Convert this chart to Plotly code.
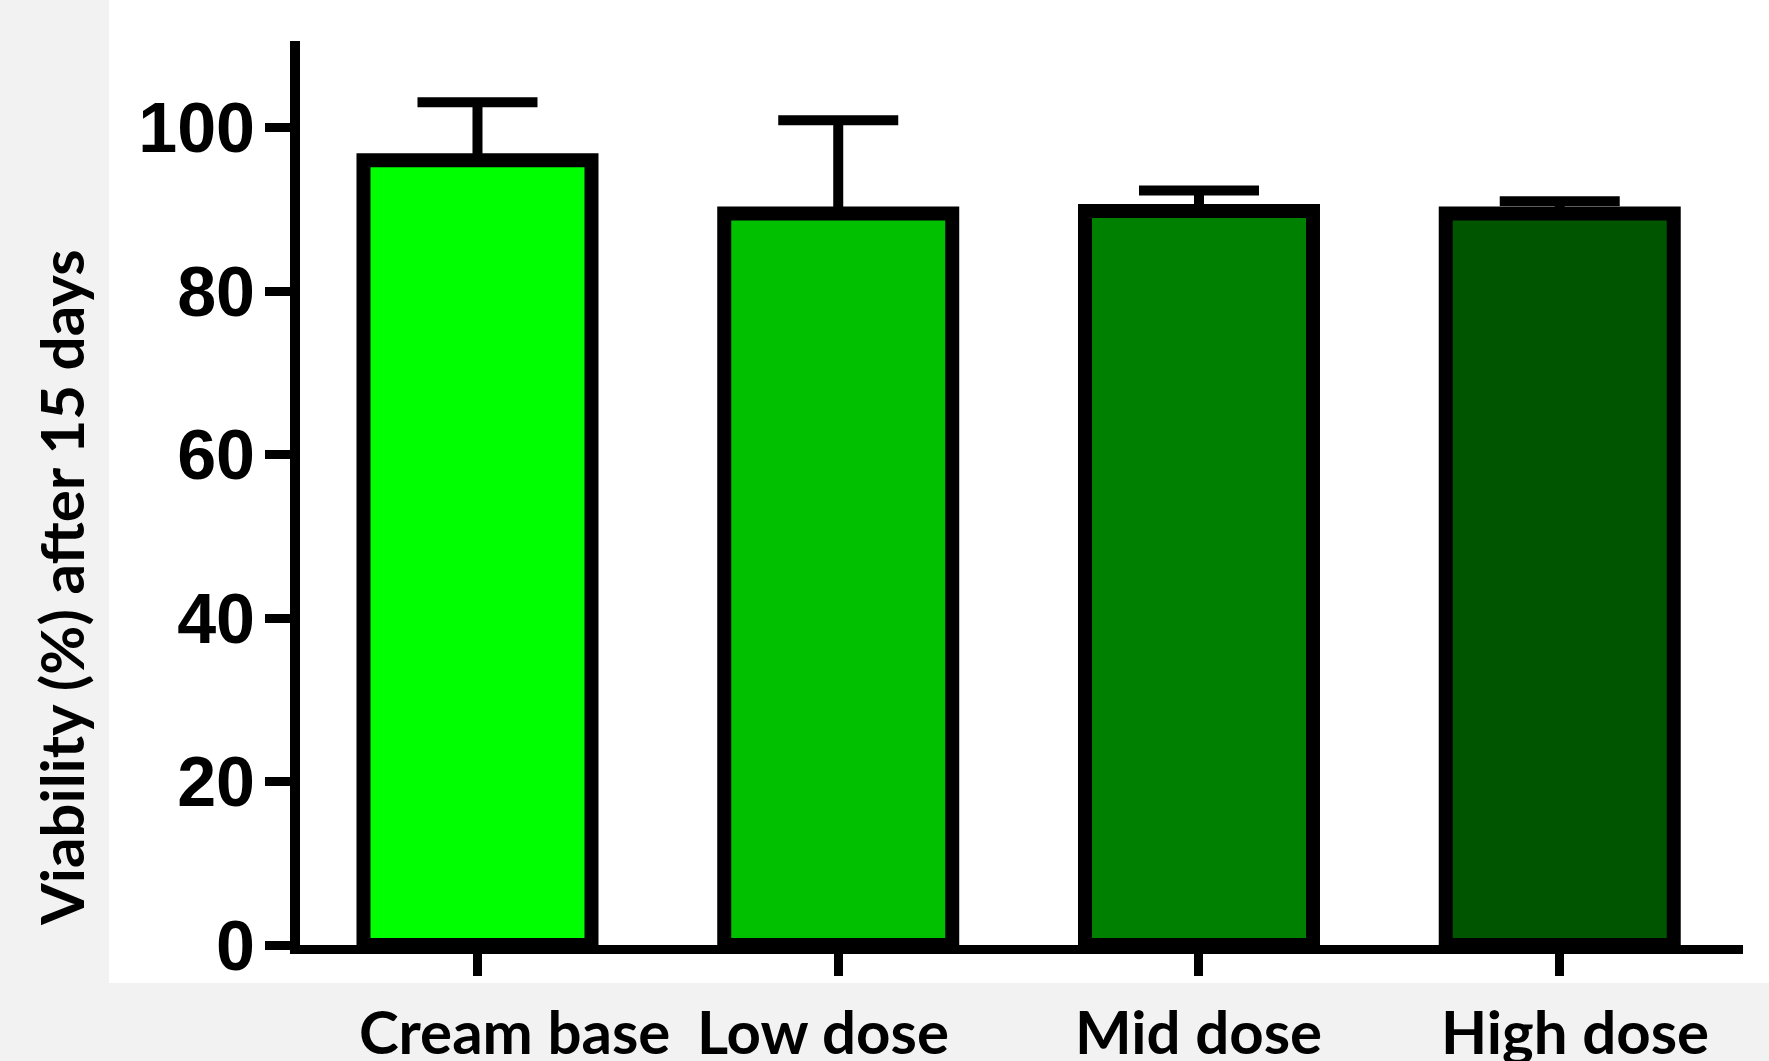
import plotly.graph_objects as go

categories = ["Cream base", "Low dose", "Mid dose", "High dose"]
viability = [96.0, 89.5, 89.8, 89.5]
sd_upper = [7.1, 11.4, 2.5, 1.5]
bar_colors = ["#00FF00", "#00C000", "#008000", "#005500"]
y_ticks = [0, 20, 40, 60, 80, 100]
y_title = "Viability (%) after 15 days"
label_shift = [37, -15, 0, 15]

W, H = 1769, 1061
ML, MR, MT, MB = 300, 26, 41, 116
PW, PH = W - ML - MR, H - MT - MB

fig = go.Figure()
fig.add_trace(go.Bar(
    x=list(range(len(categories))),
    y=viability,
    marker=dict(color=bar_colors, line=dict(color="black", width=14)),
    error_y=dict(type="data", symmetric=False, array=sd_upper,
                 arrayminus=[0] * len(categories),
                 color="black", thickness=10, width=60),
    showlegend=False,
    hoverinfo="x+y",
))

def px_x(px):
    return (px - ML) / PW

def px_y(py):
    return (H - MB - py) / PH

shapes = [dict(type="rect", xref="paper", yref="paper",
               x0=px_x(109), x1=px_x(W + 20), y0=px_y(983), y1=px_y(-20),
               fillcolor="white", line=dict(width=0), layer="below")]

annotations = []
for i, (c, s) in enumerate(zip(categories, label_shift)):
    annotations.append(dict(
        x=i, xref="x", y=px_y(1031), yref="paper", text=c, showarrow=False,
        xshift=s, xanchor="center", yanchor="middle",
        font=dict(family="Lato", size=60, color="black", weight="bold")))
annotations.append(dict(
    x=px_x(61), xref="paper", y=px_y(588), yref="paper", text=y_title,
    showarrow=False, textangle=-90, xanchor="center", yanchor="middle",
    font=dict(family="Lato", size=60, color="black", weight="bold")))

fig.update_layout(
    width=W, height=H,
    margin=dict(l=ML, r=MR, t=MT, b=MB, pad=0),
    paper_bgcolor="#F2F2F2",
    plot_bgcolor="white",
    bargap=0.368,
    shapes=shapes,
    annotations=annotations,
    xaxis=dict(range=[-0.492, 3.508], tickvals=list(range(len(categories))),
               showticklabels=False, showline=True, linecolor="black",
               linewidth=9, ticks="outside", ticklen=22, tickwidth=9,
               tickcolor="black", showgrid=False, zeroline=False),
    yaxis=dict(range=[0, 110.6], tickvals=y_ticks, showline=True,
               linecolor="black", linewidth=10, ticks="outside",
               ticklen=25, tickwidth=9, tickcolor="black", showgrid=False,
               zeroline=False, ticklabelstandoff=-4,
               tickfont=dict(family="Liberation Sans", size=70,
                             color="black", weight="bold")),
)

fig.write_html("out.html", config={"displayModeBar": False},
               post_script="document.body.style.margin='0';document.body.style.overflow='hidden';")
